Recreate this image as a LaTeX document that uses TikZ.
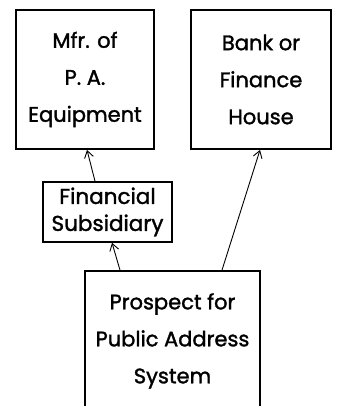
\documentclass[tikz,border=0pt]{standalone}
\usepackage{fontspec}
\setmainfont{Poppins}[BoldFont=Poppins, BoldFeatures={FakeBold=1.5}]
\usetikzlibrary{arrows.meta}
\begin{document}
\begin{tikzpicture}[x=1pt,y=-1pt,
  box/.style={draw=black, line width=1.8pt, align=center, inner sep=0pt,
    font=\fontsize{21}{37}\selectfont\bfseries},
  smallbox/.style={draw=black, line width=1.6pt, align=center, inner sep=0pt,
    font=\fontsize{21.5}{27}\selectfont\bfseries},
  conn/.style={line width=0.9pt, -{Straight Barb[length=7pt,width=9pt,line width=0.9pt]}}]
\useasboundingbox (0,0) rectangle (338,406);
\node[box, minimum width=138pt, minimum height=139pt] (mfr) at (85,79.5) {Mfr. of\\P. A.\\Equipment};
\node[box, minimum width=140pt, minimum height=139pt] (bank) at (261,79.5) {Bank or\\Finance\\House};
\node[smallbox, minimum width=129pt, minimum height=60pt] (fin) at (107.5,212) {Financial\\Subsidiary};
\node[box, minimum width=175pt, minimum height=140pt] (pros) at (172.5,341) {Prospect for\\Public Address\\System};
\draw[conn] ([xshift=-12.5pt]fin.north) -- ([xshift=2pt]mfr.south);
\draw[conn] ([xshift=-52.5pt]pros.north) -- ([xshift=4.5pt]fin.south);
\draw[conn] ([xshift=49.5pt]pros.north) -- ([xshift=-1pt]bank.south);
\end{tikzpicture}
\end{document}
